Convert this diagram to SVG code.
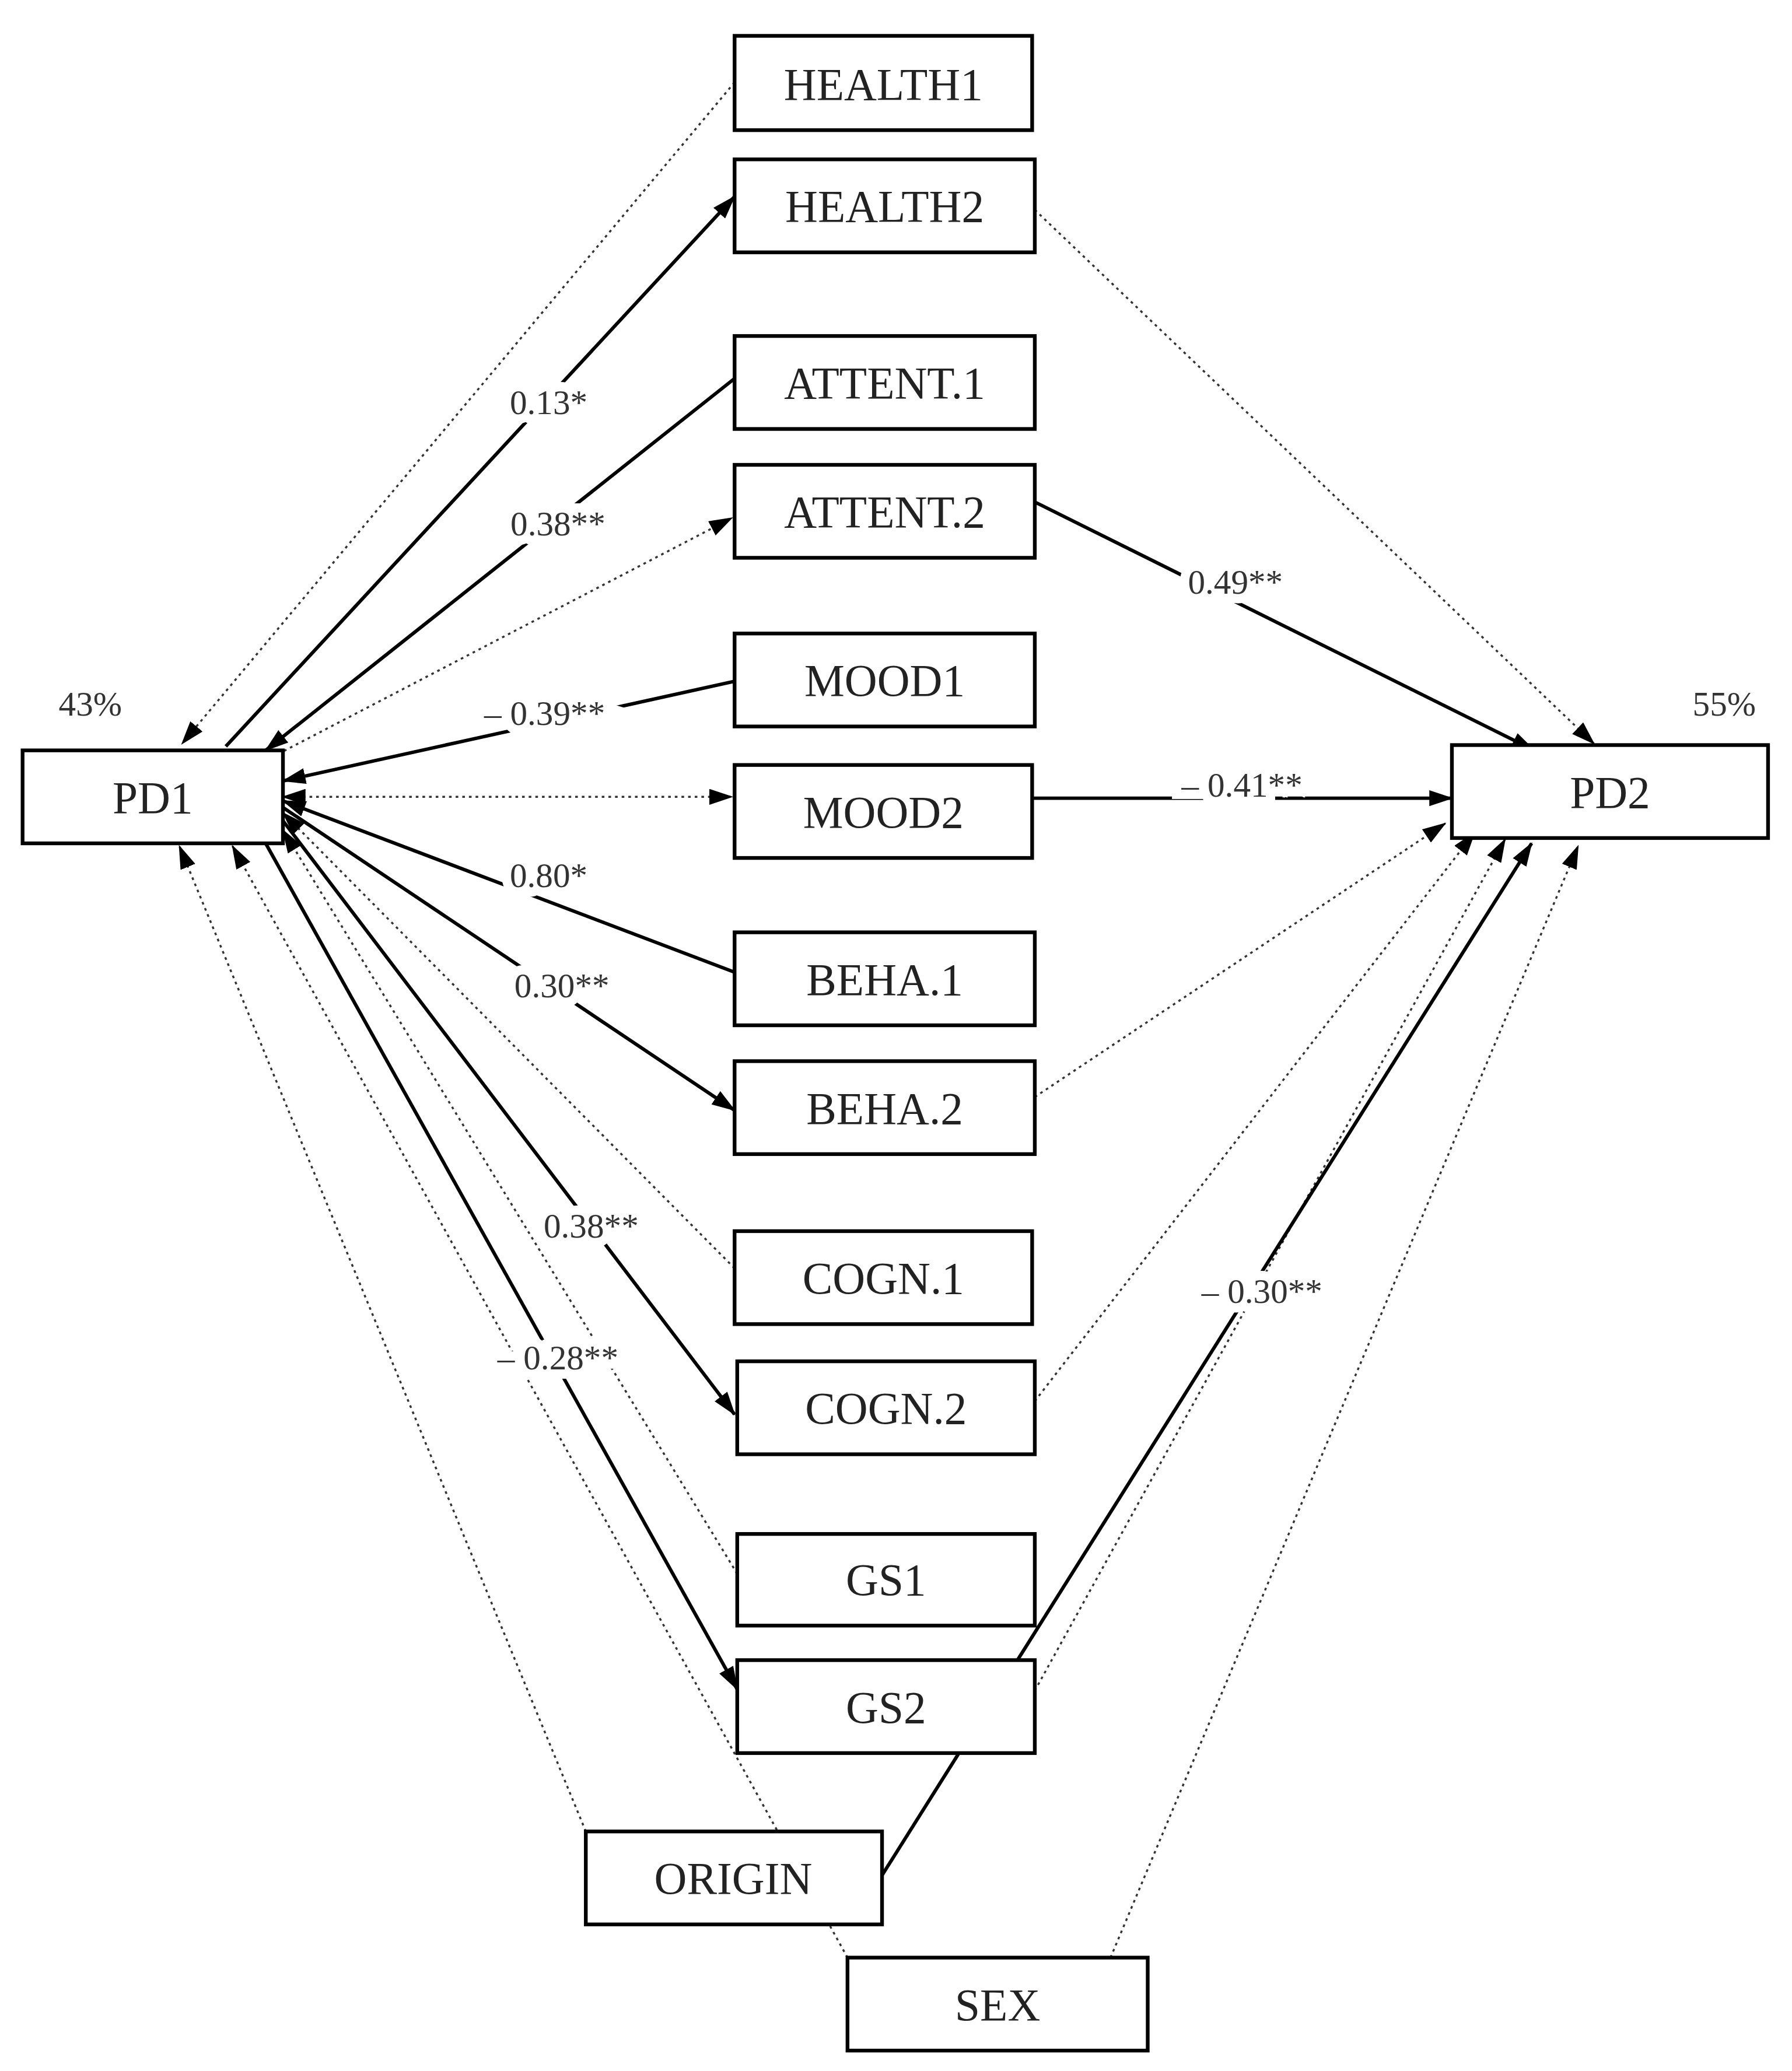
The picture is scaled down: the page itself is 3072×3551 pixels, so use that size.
<svg xmlns="http://www.w3.org/2000/svg" width="3072" height="3551" viewBox="0 0 3072 3551">
<style>
.box{fill:#fff;stroke:#000;stroke-width:2.8}
.t{font-family:"Liberation Serif",serif;font-size:34px;text-anchor:middle;fill:#222}
.l{font-family:"Liberation Serif",serif;font-size:26px;text-anchor:middle;fill:#333;stroke:#fff;stroke-width:14px;paint-order:stroke}
.s{stroke:#000;stroke-width:2.6;fill:none;marker-end:url(#a)}
.d{stroke:#333;stroke-width:1.5;stroke-dasharray:2 3;fill:none;marker-end:url(#a)}
</style>
<defs>
<marker id="a" viewBox="0 0 18 12" refX="17" refY="6" markerWidth="18" markerHeight="12" markerUnits="userSpaceOnUse" orient="auto-start-reverse"><path d="M0,0L18,6L0,12z" fill="#000"/></marker>
</defs>
<rect width="3072" height="3551" fill="#fff"/>
<g transform="scale(2.2772)">
<g id="connectors">
<path class="d" d="M553,62L137,560"/>
<path class="s" d="M170,562L553,148"/>
<path class="s" d="M553,285L200,565"/>
<path class="d" d="M205,570L551,390"/>
<path class="s" d="M779,378L1155,565"/>
<path class="d" d="M779,158L1200,560"/>
<path class="s" d="M553,513L213,588"/>
<path class="d" d="M213,600L551,600" marker-start="url(#a)"/>
<path class="s" d="M777,601L1093,601"/>
<path class="s" d="M553,732L213,603"/>
<path class="s" d="M213,608L553,836"/>
<path class="d" d="M779,826L1088,620"/>
<path class="d" d="M553,955L213,612"/>
<path class="s" d="M213,618L553,1065"/>
<path class="d" d="M779,1055L1110,627"/>
<path class="d" d="M555,1185L213,625"/>
<path class="s" d="M200,635L555,1272"/>
<path class="d" d="M779,1273L1133,632"/>
<path class="s" d="M664,1412L1153,635"/>
<path class="d" d="M441,1379L135,637"/>
<path class="d" d="M638,1474L175,637"/>
<path class="d" d="M836,1474L1188,637"/>
</g>
<g id="labels">
<text class="l" x="413" y="312">0.13*</text>
<text class="l" x="420" y="403">0.38**</text>
<text class="l" x="930" y="447">0.49**</text>
<text class="l" x="410" y="546">– 0.39**</text>
<text class="l" x="935" y="600">– 0.41**</text>
<text class="l" x="413" y="668">0.80*</text>
<text class="l" x="423" y="751">0.30**</text>
<text class="l" x="445" y="932">0.38**</text>
<text class="l" x="950" y="981">– 0.30**</text>
<text class="l" x="420" y="1031">– 0.28**</text>
<text class="l" x="68" y="539">43%</text>
<text class="l" x="1298" y="539">55%</text>
</g>
<g id="HEALTH1"><rect class="box" x="553" y="27" width="224" height="71"/><text class="t" x="665" y="75">HEALTH1</text></g>
<g id="HEALTH2"><rect class="box" x="553" y="120" width="226" height="70"/><text class="t" x="666" y="167">HEALTH2</text></g>
<g id="ATTENT1"><rect class="box" x="553" y="253" width="226" height="70"/><text class="t" x="666" y="300">ATTENT.1</text></g>
<g id="ATTENT2"><rect class="box" x="553" y="350" width="226" height="70"/><text class="t" x="666" y="397">ATTENT.2</text></g>
<g id="MOOD1"><rect class="box" x="553" y="477" width="226" height="70"/><text class="t" x="666" y="524">MOOD1</text></g>
<g id="MOOD2"><rect class="box" x="553" y="576" width="224" height="70"/><text class="t" x="665" y="623">MOOD2</text></g>
<g id="BEHA1"><rect class="box" x="553" y="702" width="226" height="70"/><text class="t" x="666" y="749">BEHA.1</text></g>
<g id="BEHA2"><rect class="box" x="553" y="799" width="226" height="70"/><text class="t" x="666" y="846">BEHA.2</text></g>
<g id="COGN1"><rect class="box" x="553" y="927" width="224" height="70"/><text class="t" x="665" y="974">COGN.1</text></g>
<g id="COGN2"><rect class="box" x="555" y="1025" width="224" height="70"/><text class="t" x="667" y="1072">COGN.2</text></g>
<g id="GS1"><rect class="box" x="555" y="1155" width="224" height="69"/><text class="t" x="667" y="1201">GS1</text></g>
<g id="GS2"><rect class="box" x="555" y="1250" width="224" height="70"/><text class="t" x="667" y="1297">GS2</text></g>
<g id="ORIGIN"><rect class="box" x="441" y="1379" width="223" height="70"/><text class="t" x="552" y="1426">ORIGIN</text></g>
<g id="SEX"><rect class="box" x="638" y="1474" width="226" height="70"/><text class="t" x="751" y="1521">SEX</text></g>
<g id="PD1"><rect class="box" x="17" y="565" width="196" height="70"/><text class="t" x="115" y="612">PD1</text></g>
<g id="PD2"><rect class="box" x="1093" y="561" width="238" height="70"/><text class="t" x="1212" y="608">PD2</text></g>
</g>
</svg>
